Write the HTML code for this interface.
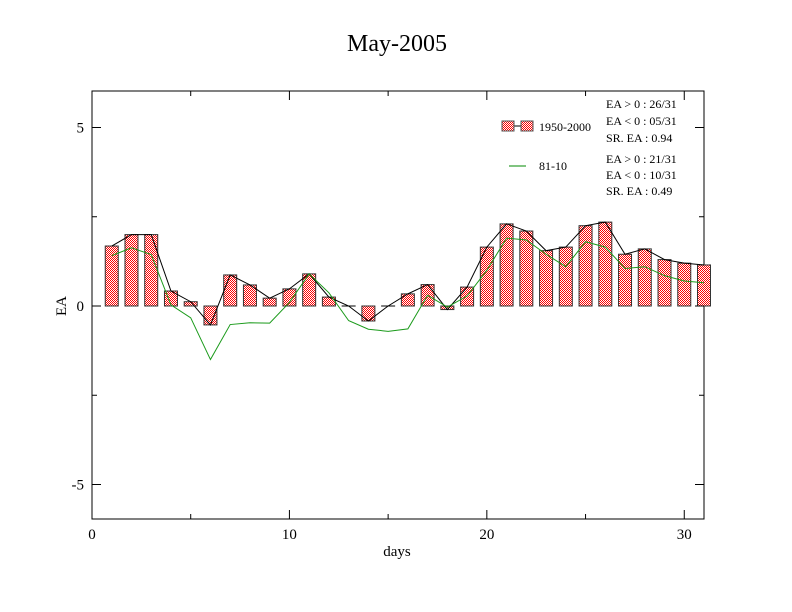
<!DOCTYPE html>
<html><head><meta charset="utf-8"><style>
body{margin:0;background:#fff;}
svg{display:block;font-family:"Liberation Serif",serif;}
</style></head><body>
<svg id="chart" width="792" height="612">
<defs><pattern id="chk" width="2" height="2" patternUnits="userSpaceOnUse"><rect width="2" height="2" fill="#fff"/><rect width="1" height="1" fill="#f00"/><rect x="1" y="1" width="1" height="1" fill="#f00"/></pattern></defs>
<text x="397" y="51" font-size="24" text-anchor="middle">May-2005</text>
<rect x="92" y="91" width="612" height="428" fill="none" stroke="#000"/>
<g id="bars"></g><g id="lines"></g><g id="axes"></g>
<text x="397" y="556" font-size="15" text-anchor="middle">days</text>
<text x="66" y="306" font-size="15" text-anchor="middle" transform="rotate(-90 66 306)">EA</text>
<g font-size="12">
<line x1="508" y1="126" x2="530" y2="126" stroke="#000"/>
<rect x="502" y="121" width="12" height="10" fill="url(#chk)" stroke="#555"/>
<rect x="521" y="121" width="12" height="10" fill="url(#chk)" stroke="#555"/>
<text x="539" y="131">1950-2000</text>
<line x1="509" y1="166" x2="526" y2="166" stroke="#080"/>
<text x="539" y="170">81-10</text>
<text x="606" y="108">EA &gt; 0 : 26/31</text>
<text x="606" y="125">EA &lt; 0 : 05/31</text>
<text x="606" y="142">SR. EA :  0.94</text>
<text x="606" y="163">EA &gt; 0 : 21/31</text>
<text x="606" y="179">EA &lt; 0 : 10/31</text>
<text x="606" y="195">SR. EA :  0.49</text>
</g>
</svg>
<script>
const days=[1,2,3,4,5,6,7,8,9,10,11,12,13,14,15,16,17,18,19,20,21,22,23,24,25,26,27,28,29,30,31];
const ea1950=[1.68,2.0,2.0,0.42,0.12,-0.53,0.87,0.59,0.22,0.48,0.9,0.25,0,-0.42,0,0.34,0.6,-0.1,0.53,1.65,2.3,2.1,1.55,1.65,2.25,2.35,1.45,1.6,1.3,1.2,1.15];
const ea8110=[1.41,1.63,1.44,0.03,-0.33,-1.5,-0.52,-0.47,-0.48,0.1,0.9,0.37,-0.41,-0.65,-0.71,-0.64,0.3,-0.03,0.28,1.0,1.9,1.85,1.45,1.1,1.8,1.65,1.05,1.1,0.85,0.7,0.65];
const xTicks=[0,10,20,30];
const yTicks=[-5,0,5];
const NS="http://www.w3.org/2000/svg";
const X=v=>92+v*612/31, Y=v=>306-v*35.7;
function mk(t,a,p){const e=document.createElementNS(NS,t);for(const k in a)e.setAttribute(k,a[k]);p.appendChild(e);return e;}
const bars=document.getElementById('bars'),lines=document.getElementById('lines'),axes=document.getElementById('axes');
days.forEach((d,i)=>{const v=ea1950[i];if(v===0){const l=mk('line',{x1:X(d)-7,x2:X(d)+7,y1:306,y2:306,stroke:'#000'},bars);

return;}
const r=mk('rect',{x:X(d)-6.5,y:Math.min(Y(v),306),width:13,height:Math.abs(Y(v)-306),fill:'url(#chk)',stroke:'#333','stroke-width':1},bars);

});
const p1=mk('polyline',{points:days.map((d,i)=>X(d)+','+Y(ea1950[i])).join(' '),fill:'none',stroke:'#000'},lines);


const p2=mk('polyline',{points:days.map((d,i)=>X(d)+','+Y(ea8110[i])).join(' '),fill:'none',stroke:'#1a9a1a'},lines);


xTicks.forEach(t=>{mk('line',{x1:X(t),x2:X(t),y1:519,y2:510,stroke:'#000'},axes);mk('line',{x1:X(t),x2:X(t),y1:91,y2:100,stroke:'#000'},axes);
const tx=mk('text',{x:X(t),y:539,'font-size':15,'text-anchor':'middle'},axes);tx.textContent=t;

});
for(let t=5;t<31;t+=5){if(t%10){mk('line',{x1:X(t),x2:X(t),y1:519,y2:514,stroke:'#000'},axes);mk('line',{x1:X(t),x2:X(t),y1:91,y2:96,stroke:'#000'},axes);}}
yTicks.forEach(t=>{mk('line',{x1:92,x2:101,y1:Y(t),y2:Y(t),stroke:'#000'},axes);mk('line',{x1:704,x2:695,y1:Y(t),y2:Y(t),stroke:'#000'},axes);
const tx=mk('text',{x:84,y:Y(t)+5,'font-size':15,'text-anchor':'end'},axes);tx.textContent=t;

});
[-2.5,2.5].forEach(t=>{mk('line',{x1:92,x2:97,y1:Y(t),y2:Y(t),stroke:'#000'},axes);mk('line',{x1:704,x2:699,y1:Y(t),y2:Y(t),stroke:'#000'},axes);});
</script>
</body></html>
